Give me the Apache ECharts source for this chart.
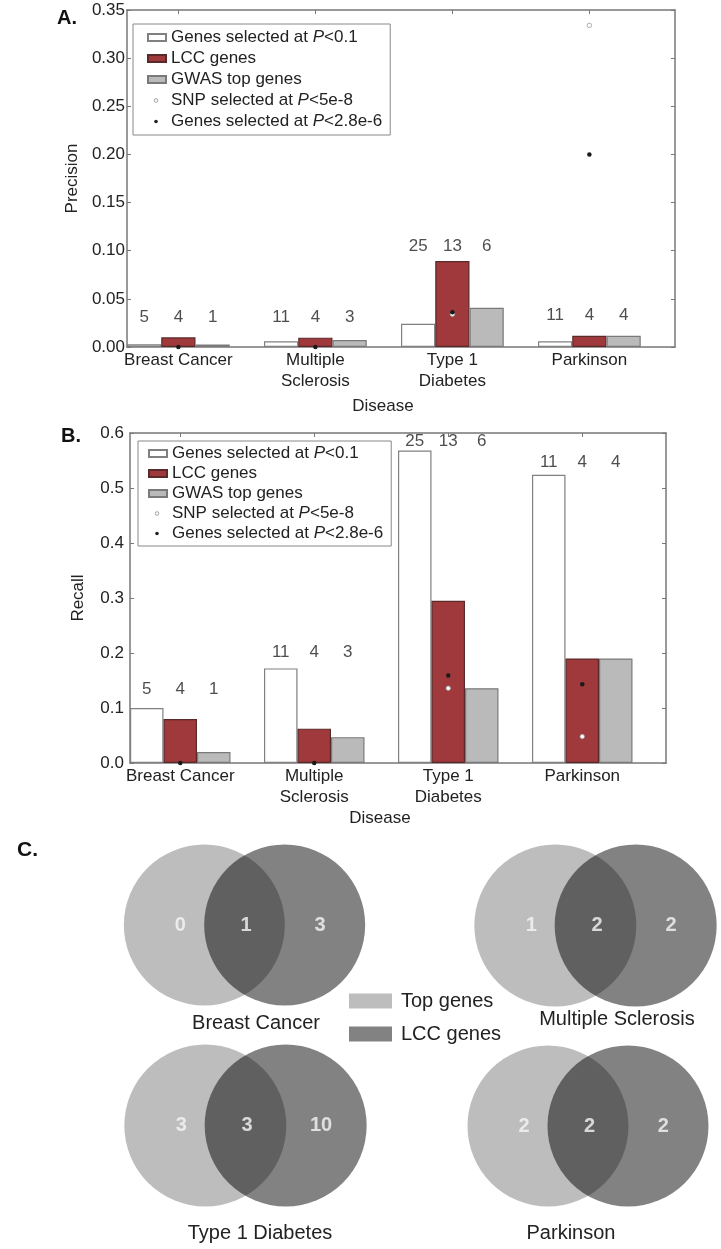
<!DOCTYPE html>
<html><head><meta charset="utf-8">
<script src="https://cdn.jsdelivr.net/npm/echarts@6/dist/echarts.min.js"></script>
<style>html,body{margin:0;padding:0;background:#fff}#c{width:721px;height:1249px}</style>
</head><body><div id="c"></div>
<script>
// ---------------- data ----------------
const diseases = ['Breast Cancer', 'Multiple\nSclerosis', 'Type 1\nDiabetes', 'Parkinson'];
const precisionTicks = [0, 0.05, 0.10, 0.15, 0.20, 0.25, 0.30, 0.35];
const recallTicks = [0, 0.1, 0.2, 0.3, 0.4, 0.5, 0.6];

const precisionAll  = [0.0028, 0.0059, 0.0242, 0.0059];
const precisionLCC  = [0.0101, 0.0097, 0.0893, 0.0117];
const precisionGWAS = [0.0025, 0.0073, 0.0408, 0.0117];
const precisionSNP  = [null, null, 0.034, 0.334];
const precisionGene = [0.0, 0.0, 0.036, 0.200];

const recallAll  = [0.100, 0.172, 0.568, 0.524];
const recallLCC  = [0.080, 0.0625, 0.295, 0.190];
const recallGWAS = [0.020, 0.047, 0.136, 0.190];
const recallSNP  = [null, null, 0.136, 0.048];
const recallGene = [0.0, 0.0, 0.159, 0.143];

const countsAll  = [5, 11, 25, 11];
const countsLCC  = [4, 4, 13, 4];
const countsGWAS = [1, 3, 6, 4];
// height (data units) at which the count annotations sit
const precisionCountLevel = [0.031, 0.031, 0.105, 0.033];
const recallCountLevel    = [0.1345, 0.202, 0.584, 0.546];

const vennTitles = ['Breast Cancer', 'Multiple Sclerosis', 'Type 1 Diabetes', 'Parkinson'];
const vennTopOnly = [0, 1, 3, 2];
const vennOverlap = [1, 2, 3, 2];
const vennLccOnly = [3, 2, 10, 2];

// ---------------- style ----------------
const FONT = 'Liberation Sans, Arial, sans-serif';
const TXT = '#222';
const AX = '#777';
const RED = '#a0393b';
const GREY = '#bababa';
const names = ['Genes selected at P<0.1', 'LCC genes', 'GWAS top genes', 'SNP selected at P<5e-8', 'Genes selected at P<2.8e-6'];
const vennNames = ['Venn:Top genes', 'Venn:LCC genes'];
const offs = [0.125, 0.375, 0.625];
const tickPos = diseases.map((d, i) => i + 0.375);

function svgIcon(inner) {
  return 'image://data:image/svg+xml;charset=utf-8,' + encodeURIComponent(
    '<svg xmlns="http://www.w3.org/2000/svg" width="18" height="7" viewBox="0 0 18 7">' + inner + '</svg>');
}
const snpIcon = svgIcon('<circle cx="8" cy="3.5" r="1.8" fill="#fff" stroke="#999" stroke-width="0.9"/>');
const geneIcon = svgIcon('<circle cx="8" cy="3.5" r="1.8" fill="#222"/>');

const grids = [
  { left: 127, top: 10, width: 548, height: 337 },
  { left: 130, top: 433, width: 536, height: 330 },
  { left: 124, top: 845, width: 241, height: 160 },
  { left: 475, top: 845, width: 241, height: 161 },
  { left: 125, top: 1045, width: 241, height: 161 },
  { left: 468, top: 1046, width: 240, height: 160 }
];

const xAxes = [], yAxes = [], series = [];

function barPanel(p, gi, yMax, yInt, yName, yNameGap, labMargin, dec, vals, snp, gene, levels, unitPx) {
  const xb = xAxes.length;
  xAxes.push({
    type: 'value', gridIndex: gi, min: 0, max: 4, position: 'bottom',
    axisLine: { show: true, onZero: false, lineStyle: { color: AX, width: 1.5 } },
    axisTick: { show: true, inside: true, length: 4, customValues: tickPos, lineStyle: { color: AX } },
    axisLabel: { show: true, customValues: tickPos, formatter: v => diseases[Math.round(v - 0.375)],
      fontSize: 17, lineHeight: 21, color: TXT, fontFamily: FONT, margin: 3, verticalAlign: 'top' },
    splitLine: { show: false },
    name: 'Disease', nameLocation: 'middle', nameGap: p === 0 ? 51 : 47,
    nameTextStyle: { fontSize: 17, color: TXT, fontFamily: FONT, padding: [0, 36, 0, 0] }
  });
  xAxes.push({
    type: 'value', gridIndex: gi, min: 0, max: 4, position: 'top',
    axisLine: { show: true, onZero: false, lineStyle: { color: AX, width: 1.5 } },
    axisTick: { show: true, inside: true, length: 4, customValues: tickPos, lineStyle: { color: AX } },
    axisLabel: { show: false }, splitLine: { show: false }
  });
  const yb = yAxes.length;
  yAxes.push({
    type: 'value', gridIndex: gi, min: 0, max: yMax, interval: yInt, position: 'left',
    axisLine: { show: true, onZero: false, lineStyle: { color: AX, width: 1.5 } },
    axisTick: { show: true, inside: true, length: 4, lineStyle: { color: AX } },
    axisLabel: { formatter: v => v.toFixed(dec), fontSize: 17, color: TXT, fontFamily: FONT, margin: labMargin },
    splitLine: { show: false },
    name: yName, nameLocation: 'middle', nameGap: yNameGap,
    nameTextStyle: { fontSize: 17, color: TXT, fontFamily: FONT }
  });
  yAxes.push({
    type: 'value', gridIndex: gi, min: 0, max: yMax, interval: yInt, position: 'right',
    axisLine: { show: true, onZero: false, lineStyle: { color: AX, width: 1.5 } },
    axisTick: { show: true, inside: true, length: 4, lineStyle: { color: AX } },
    axisLabel: { show: false }, splitLine: { show: false }
  });
  const fills = ['#ffffff', RED, GREY];
  const borders = ['#808080', '#5a2a2a', '#7a7a7a'];
  vals.forEach((arr, s) => {
    series.push({
      type: 'bar', name: names[s], xAxisIndex: xb, yAxisIndex: yb,
      barWidth: unitPx * 0.25, barGap: '-100%', silent: true, z: 2,
      itemStyle: { color: fills[s], borderColor: borders[s], borderWidth: 1.2 },
      data: arr.map((v, i) => [i + offs[s], v])
    });
  });
  series.push({
    type: 'scatter', name: names[3], xAxisIndex: xb, yAxisIndex: yb, symbolSize: 4.5, z: 5, silent: true,
    itemStyle: { color: '#ffffff', borderColor: '#9a9a9a', borderWidth: 0.8, opacity: 1 },
    data: snp.map((v, i) => v == null ? null : [i + offs[1], v]).filter(d => d)
  });
  series.push({
    type: 'scatter', name: names[4], xAxisIndex: xb, yAxisIndex: yb, symbolSize: 4.5, z: 6, silent: true,
    itemStyle: { color: '#1a1a1a', opacity: 1 }, clip: false,
    data: gene.map((v, i) => [i + offs[1], v])
  });
  const cdata = [];
  [countsAll, countsLCC, countsGWAS].forEach((arr, s) => arr.forEach((c, i) => cdata.push([i + offs[s], levels[i], c])));
  series.push({
    type: 'scatter', name: 'counts' + p, xAxisIndex: xb, yAxisIndex: yb, symbolSize: 1, z: 7, silent: true, clip: false,
    itemStyle: { color: 'rgba(0,0,0,0)' },
    label: { show: true, position: 'inside', formatter: q => String(q.value[2]), fontSize: 17, color: TXT, fontFamily: FONT },
    data: cdata
  });
}

barPanel(0, 0, 0.35, 0.05, 'Precision', 45, 2, 2,
  [precisionAll, precisionLCC, precisionGWAS], precisionSNP, precisionGene, precisionCountLevel, 548 / 4);
barPanel(1, 1, 0.6, 0.1, 'Recall', 43, 6, 1,
  [recallAll, recallLCC, recallGWAS], recallSNP, recallGene, recallCountLevel, 536 / 4);

// Venn panels
vennTitles.forEach((t, k) => {
  const gi = 2 + k;
  const xi = xAxes.length, yi = yAxes.length;
  xAxes.push({ type: 'value', gridIndex: gi, min: 0, max: 3, show: false });
  yAxes.push({ type: 'value', gridIndex: gi, min: 0, max: 1, show: false });
  const d = grids[gi].height;
  series.push({ type: 'scatter', name: vennNames[0], xAxisIndex: xi, yAxisIndex: yi, symbolSize: d + 1, z: 2, silent: true,
    itemStyle: { color: 'rgba(0,0,0,0.26)', opacity: 1 }, data: [[1, 0.5]] });
  series.push({ type: 'scatter', name: vennNames[1], xAxisIndex: xi, yAxisIndex: yi, symbolSize: d + 1, z: 3, silent: true,
    itemStyle: { color: 'rgba(0,0,0,0.49)', opacity: 1 }, data: [[2, 0.5]] });
  series.push({ type: 'scatter', name: 'venn' + k, xAxisIndex: xi, yAxisIndex: yi, symbolSize: 1, z: 4, silent: true,
    itemStyle: { color: 'rgba(0,0,0,0)' },
    label: { show: true, position: 'inside', formatter: q => String(q.value[2]), fontSize: 20, fontWeight: 'bold', color: '#f6f6f6', fontFamily: FONT },
    data: [[0.7, 0.5, vennTopOnly[k]], [1.52, 0.5, vennOverlap[k]], [2.44, 0.5, vennLccOnly[k]]] });
});

function legendFmt(name) {
  const m = name.match(/^(.* at )P(<.*)$/);
  if (m) return '{a|' + m[1] + '}{i|P}{a|' + m[2] + '}';
  return '{a|' + name + '}';
}
const legendText = { fontFamily: FONT, fontSize: 17, color: TXT,
  rich: { a: { fontFamily: FONT, fontSize: 17, color: TXT, lineHeight: 16 },
          i: { fontFamily: FONT, fontSize: 17, color: TXT, lineHeight: 16, fontStyle: 'italic' } } };
const legendData = [
  { name: names[0], icon: 'rect' }, { name: names[1], icon: 'rect' }, { name: names[2], icon: 'rect' },
  { name: names[3], icon: snpIcon }, { name: names[4], icon: geneIcon }
];

const vennTitlePos = [[256, 1023], [617, 1019], [260, 1233], [571, 1233]];
const graphic = [
  { type: 'text', x: 57, y: 8, style: { text: 'A.', font: 'bold 20px ' + FONT, fill: '#111' } },
  { type: 'text', x: 61, y: 426, style: { text: 'B.', font: 'bold 20px ' + FONT, fill: '#111' } },
  { type: 'text', x: 17, y: 840, style: { text: 'C.', font: 'bold 21px ' + FONT, fill: '#111' } }
];
vennTitles.forEach((t, k) => graphic.push({ type: 'text', x: vennTitlePos[k][0], y: vennTitlePos[k][1],
  style: { text: t, font: '20px ' + FONT, fill: TXT, textAlign: 'center', textVerticalAlign: 'middle' } }));

const option = {
  animation: false,
  backgroundColor: '#ffffff',
  grid: grids.map(g => Object.assign({ containLabel: false }, g)),
  xAxis: xAxes,
  yAxis: yAxes,
  legend: [
    { left: 133, top: 24, orient: 'vertical', selectedMode: false, padding: [5, 8, 5, 14],
      borderColor: '#888', borderWidth: 1, backgroundColor: '#fff', itemWidth: 18, itemHeight: 7, itemGap: 4,
      formatter: legendFmt, textStyle: legendText, data: legendData, z: 10 },
    { left: 138, top: 441, orient: 'vertical', selectedMode: false, padding: [4, 8, 4, 10],
      borderColor: '#888', borderWidth: 1, backgroundColor: '#fff', itemWidth: 18, itemHeight: 7, itemGap: 3,
      formatter: legendFmt, textStyle: legendText, data: legendData, z: 10 },
    { left: 349, top: 991, orient: 'vertical', selectedMode: false, padding: 0, itemWidth: 43, itemHeight: 15, itemGap: 13,
      formatter: n => n.replace('Venn:', ''),
      textStyle: { fontFamily: FONT, fontSize: 20, color: TXT, padding: [0, 0, 0, 4] },
      data: [{ name: vennNames[0], icon: 'rect' }, { name: vennNames[1], icon: 'rect' }] }
  ],
  graphic: graphic,
  series: series
};
const chart = echarts.init(document.getElementById('c'), null, { renderer: 'canvas' });
chart.setOption(option);
</script>
</body></html>
